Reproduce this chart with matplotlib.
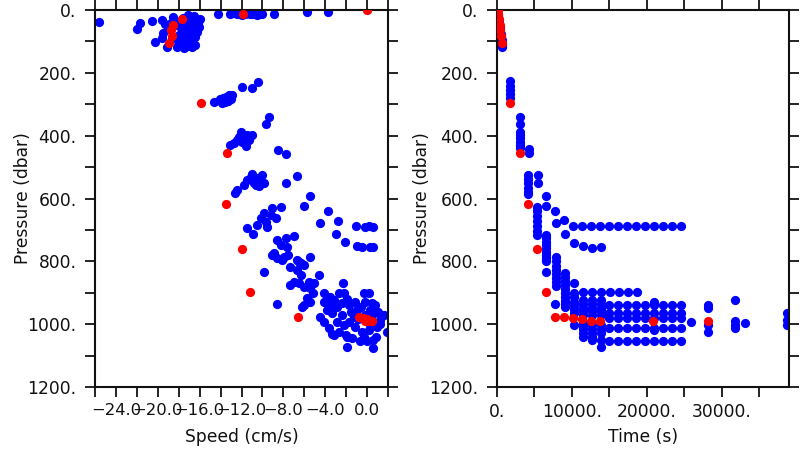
import matplotlib
matplotlib.use('Agg')
import matplotlib.pyplot as plt
from matplotlib.ticker import FixedLocator, FuncFormatter

plt.rcParams['font.family'] = 'DejaVu Sans'
plt.rcParams['font.size'] = 12.3

# ---- left panel: speed vs pressure (blue = all samples, red = selected) ----
left_speed = [
    -25.6, -22.0, -21.7, -20.6, -20.25,
    -19.6, -19.3, -19.5, -19.6, -19.1, -18.9, -18.5, -18.3, -18.2, -18.0,
    -18.0, -17.9, -17.8, -17.6, -17.5, -17.4, -17.3, -17.2, -17.1, -17.0,
    -16.9, -16.9, -16.8, -16.7, -16.6, -16.6, -16.5, -16.4, -16.3, -16.2,
    -16.0, -17.7, -18.1, -17.5, -16.7, -18.6, -18.7, -17.0, -16.4, -16.1,
    -14.2, -13.1, -12.7, -12.4, -12.2, -12.0, -11.7, -11.5, -11.2, -11.0,
    -10.7, -10.5, -10.2, -10.0, -8.9, -5.7, -3.7,
    -10.4, -11.0, -12.0, -14.6, -14.1, -13.8, -13.5, -13.2, -12.9, -13.6,
    -13.3, -13.0, -13.9, -9.4, -9.7,
    -12.08, -11.44, -10.97, -11.77, -12.4, -12.72, -13.1, -11.6, -11.29, -12.24,
    -11.92, -8.53, -7.7,
    -10.97, -10.01, -10.49, -11.44, -10.81, -9.86, -11.77, -10.34, -12.4, -12.65,
    -11.1, -10.6, -6.74, -7.7, -5.41, -6.05,
    -9.06, -8.27, -9.86, -9.22, -8.75, -10.18, -9.7, -10.49, -9.54, -11.44,
    -10.91, -3.72, -2.8, -4.52, -1.05, -0.17, 0.15, 0.57, -2.93, -2.07,
    -0.96, -0.48, 0.31, 0.57,
    -8.58, -7.79, -6.99, -8.27, -7.63, -8.91, -7.95, -8.58, -9.06, -6.68,
    -5.5, -6.36, -7.32, -9.86, -8.1, -7.6, -6.52, -6.05, -6.68, -6.36,
    -6.99, -7.32, -6.52, -6.05, -4.62,
    -5.57, -5.09, -5.41, -5.16, -5.73, -5.41, -6.05, -6.2, -2.3, -8.58,
    -4.14, -3.5, -4.14, -3.19, -2.71, -2.23, -3.5, -2.86, -2.39, -1.91,
    -4.46, -4.14, -3.67, -3.19, -2.71, -2.23, -1.91, -1.91, -2.86, -2.39,
    -3.34, -3.82, -3.34,
    -0.33, 0.15, -1.12, -0.17, 0.47, -1.76, -0.96, 0.31, 0.63, -1.28,
    -0.17, 1.58, -1.76, 1.26, -1.12, -0.48, 0.15, 0.95, 1.9, -0.64,
    0.0, 0.57, 0.57, -2.0, -1.4, 0.8, -0.6, 0.9, -0.9, 0.2,
    1.2, -1.5, 0.4, -0.3, 1.0,
]
left_pres = [
    39, 61, 42, 34, 103,
    32, 45, 74, 90, 117, 60, 21, 35, 117, 50,
    80, 95, 108, 25, 40, 65, 88, 115, 16, 30,
    52, 75, 101, 45, 62, 90, 20, 110, 69, 40,
    29, 70, 100, 120, 118, 88, 40, 100, 85, 55,
    13, 13, 11, 14, 12, 15, 13, 11, 14, 12,
    13, 15, 12, 14, 13, 6, 6,
    228, 247, 246, 292, 283, 280, 277, 270, 270, 292,
    289, 283, 295, 342, 364,
    387, 398, 398, 408, 414, 422, 430, 433, 414, 403,
    419, 446, 458,
    522, 525, 536, 541, 550, 550, 557, 560, 573, 583,
    531, 557, 528, 550, 592, 624,
    631, 628, 647, 653, 663, 663, 674, 684, 690, 695,
    714, 639, 672, 679, 687, 690, 687, 690, 714, 739,
    750, 755, 755, 755,
    732, 727, 719, 748, 753, 774, 785, 790, 780, 796,
    785, 806, 817, 833, 795, 780, 801, 812, 828, 844,
    865, 875, 870, 881, 844,
    865, 870, 886, 902, 918, 928, 939, 944, 870, 936,
    902, 912, 928, 923, 902, 900, 939, 944, 934, 921,
    976, 992, 1013, 1034, 1024, 1003, 1040, 1072, 992, 971,
    965, 955, 1030,
    902, 902, 928, 928, 934, 939, 955, 955, 965, 976,
    971, 971, 992, 987, 1008, 1024, 1019, 1008, 1024, 1055,
    1055, 1050, 1075, 1034, 1045, 940, 945, 1040, 985, 995,
    1000, 960, 980, 1040, 960,
]
left_red_speed = [0.0, -11.9, -17.7, -18.5, -18.76, -18.66, -18.9, -15.83, -13.35, -13.51,
                  -11.94, -11.2, -6.58, -0.8, -0.4, 0.0, 0.3, -0.2, 0.5, 0.1]
left_red_pres = [0, 13, 30, 48, 64, 83, 104, 297, 456, 618,
                 762, 899, 978, 978, 981, 984, 990, 990, 990, 990]

# ---- right panel: time vs pressure ----
right_time = [
    50, 120, 180, 250, 320, 380, 450, 520, 580, 640, 700, 680, 620,
    1700, 1770, 1800, 1750, 1800,
    3040, 3040, 3040, 3040, 3040, 3040, 3040, 3040,
    4210, 4210,
    4130, 4130, 4130, 4130, 4130, 4130,
    5420, 5420, 6570, 6570, 7810,
    5370, 5370, 5370, 5370, 5370, 5370, 5370,
    7900, 8970,
    10130, 11370, 12570, 13770, 14930, 16130, 17330, 18530, 19730, 20930, 22130, 23330, 24530,
    9100, 10300, 11470, 12700, 13900,
    6570, 6570, 6570, 6570, 6570, 6570, 6570, 6570, 6570, 6570,
    7900, 7900, 7900, 7900, 7900, 7900, 7900, 7900,
    7770,
    9100, 9100, 9100, 9100, 9100, 9100, 9100, 9100, 9100, 9100,
    10300, 10300, 10300, 10300, 10300, 10300, 10300, 10300,
    11470, 12670, 13870, 15030, 16230, 17430, 18670,
    11470, 11470, 11470, 11470, 11470, 11470, 11470, 11470, 11470, 11470,
    12670, 12670, 12670, 12670, 12670, 12670, 12670, 12670, 12670, 12670,
    13870, 13870, 13870, 13870, 13870, 13870, 13870, 13870, 13870, 13870,
    15010, 15010, 15010, 15010, 15010,
    16210, 16210, 16210, 16210, 16210,
    17330, 17330, 17330, 17330, 17330,
    18530, 18530, 18530, 18530, 18530,
    19730, 19730, 19730, 19730, 19730,
    20930, 20930, 20930, 20930, 20930, 20930, 20930,
    22130, 22130, 22130, 22130, 22130,
    23330, 23330, 23330, 23330, 23330,
    24530, 24530, 24530, 24530, 24530,
    25870, 28210, 28210, 28210, 28210,
    31770, 31770, 31770, 31770, 33100,
    38700, 38700, 38700, 39000,
]
right_pres = [
    5, 15, 25, 35, 45, 55, 65, 75, 85, 95, 110, 117, 105,
    226, 242, 255, 268, 281,
    342, 364, 387, 398, 408, 419, 430, 440,
    443, 456,
    525, 538, 552, 565, 578, 587,
    525, 550, 592, 624, 639,
    627, 641, 657, 673, 689, 705, 716,
    679, 670,
    688, 688, 688, 688, 688, 688, 688, 688, 688, 688, 688, 688, 688,
    714, 741, 751, 757, 753,
    716, 727, 737, 748, 758, 769, 779, 790, 800, 833,
    785, 800, 815, 828, 840, 852, 865, 880,
    937,
    838, 850, 862, 875, 888, 900, 912, 925, 937, 944,
    870, 902, 915, 928, 940, 952, 965, 1003,
    899, 899, 899, 899, 899, 899, 899,
    923, 935, 947, 958, 970, 995, 1005, 1015, 1027, 1040,
    923, 935, 947, 958, 970, 1003, 1015, 1027, 1040, 1050,
    923, 935, 947, 958, 970, 1003, 1015, 1027, 1050, 1072,
    939, 963, 981, 1013, 1053,
    939, 963, 981, 1013, 1053,
    939, 963, 981, 1013, 1053,
    939, 963, 981, 1013, 1053,
    939, 963, 981, 1013, 1053,
    929, 939, 963, 981, 1013, 1018, 1053,
    939, 963, 981, 1013, 1053,
    939, 963, 981, 1013, 1053,
    939, 963, 981, 1013, 1053,
    992, 939, 950, 1003, 1024,
    923, 990, 1003, 1011, 997,
    965, 987, 1003, 1000,
]
right_red_time = [80, 150, 250, 350, 450, 550, 650, 1770, 3040, 4130,
                  5370, 6570, 7770, 8970, 10170, 11330, 12530, 13730, 20890, 28210]
right_red_pres = left_red_pres

y_ticks = [0, 100, 200, 300, 400, 500, 600, 700, 800, 900, 1000, 1100, 1200]
speed_ticks = [-26, -24, -22, -20, -18, -16, -14, -12, -10, -8, -6, -4, -2, 0, 2]
time_ticks = [0, 5000, 10000, 15000, 20000, 25000, 30000, 35000]

fig = plt.figure(figsize=(8, 4.5), dpi=100)
ax1 = fig.add_axes([95 / 800, 1 - 387 / 450, 293 / 800, 377 / 450])
ax2 = fig.add_axes([497 / 800, 1 - 387 / 450, 292 / 800, 377 / 450])

msize = 44
ax1.scatter(left_speed, left_pres, s=msize, color='#0000ff', linewidths=0, zorder=2)
ax1.scatter(left_red_speed, left_red_pres, s=msize, color='#ff0000', linewidths=0, zorder=3)
ax2.scatter(right_time, right_pres, s=msize, color='#0000ff', linewidths=0, zorder=2)
ax2.scatter(right_red_time, right_red_pres, s=msize, color='#ff0000', linewidths=0, zorder=3)

ax1.set_xlim(-26, 2)
ax2.set_xlim(0, 39000)


def ylab(v, pos):
    return f'{int(v)}.' if int(v) % 200 == 0 else ''


def speedlab(v, pos):
    if int(round(v)) % 4 != 0 or v < -24 or v > 0:
        return ''
    return f'{v:.1f}'.replace('-', '\u2212')


def timelab(v, pos):
    return f'{int(v)}.' if int(v) % 10000 == 0 else ''


ax1.xaxis.set_major_locator(FixedLocator(speed_ticks))
ax1.xaxis.set_major_formatter(FuncFormatter(speedlab))
ax2.xaxis.set_major_locator(FixedLocator(time_ticks))
ax2.xaxis.set_major_formatter(FuncFormatter(timelab))

for ax in (ax1, ax2):
    ax.set_ylim(1200, 0)
    ax.yaxis.set_major_locator(FixedLocator(y_ticks))
    ax.yaxis.set_major_formatter(FuncFormatter(ylab))
    ax.tick_params(direction='out', length=7.2, width=1.3, top=True, right=True,
                   labelsize=12.3, colors='#111111')
    ax.tick_params(axis='x', pad=4)
    ax.tick_params(axis='y', pad=6)
    for sp in ax.spines.values():
        sp.set_linewidth(1.5)
        sp.set_color('#111111')
    ax.set_ylabel('Pressure (dbar)', fontsize=12.3, color='#111111')

# speed labels sit close together, as in the original plot
for lab in ax1.get_xticklabels():
    lab.set_fontsize(11.8)

ax1.yaxis.set_label_coords(-0.215, 0.5)
ax2.yaxis.set_label_coords(-0.226, 0.5)
ax1.set_xlabel('Speed (cm/s)', fontsize=12.3, color='#111111')
ax2.set_xlabel('Time (s)', fontsize=12.3, color='#111111')
ax1.xaxis.set_label_coords(0.5, -0.11)
ax2.xaxis.set_label_coords(0.5, -0.11)

plt.savefig('out.png', dpi=100)
